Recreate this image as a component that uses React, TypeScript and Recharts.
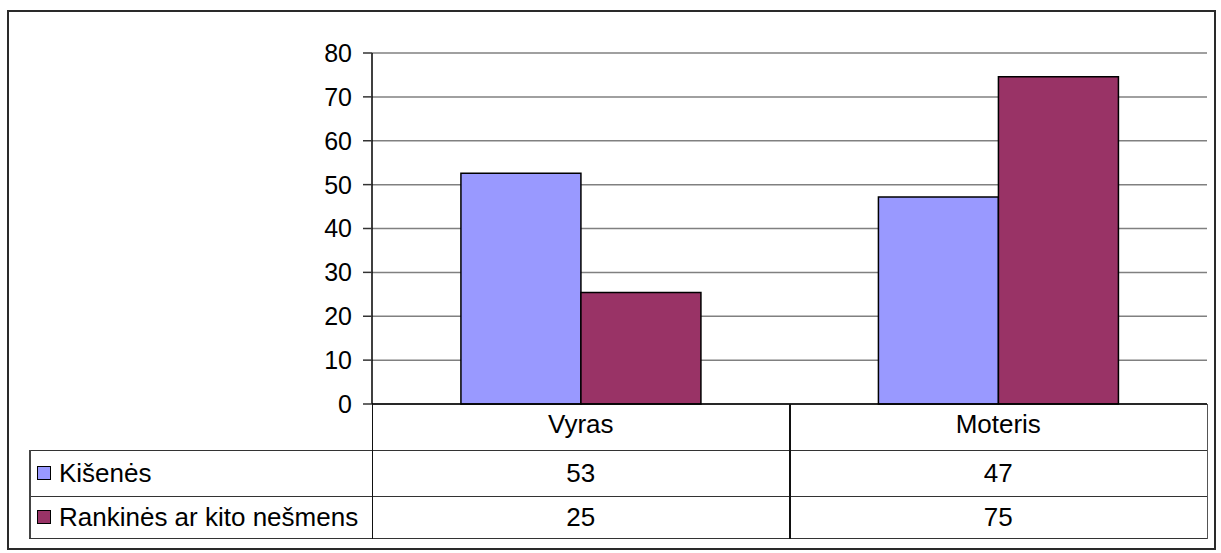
import React from "react";
import { Bar, BarChart, CartesianGrid, XAxis, YAxis } from "recharts";

const categories = ["Vyras", "Moteris"];
const kisenes = [52.6, 47.2];
const rankines = [25.4, 74.6];
const seriesNames = ["Kišenės", "Rankinės ar kito nešmens"];
const seriesColors = ["#9999FF", "#993366"];
const yTicks = [0, 10, 20, 30, 40, 50, 60, 70, 80];

const W = 1221;
const H = 553;
const PLOT_LEFT = 372;
const PLOT_RIGHT = 1207;
const PLOT_TOP = 53;
const PLOT_BOTTOM = 404;
const ROW_LINES = [450, 496, 538];
const TABLE_LEFT = 29;
const FONT = "'Liberation Sans', Arial, sans-serif";
const TABLE_FS = 26;

const data = categories.map((c, i) => ({ name: c, k: kisenes[i], r: rankines[i] }));
const seriesValues = [kisenes, rankines];

function Line({ x, y, w, h, c = "#111" }: { x: number; y: number; w: number; h: number; c?: string }) {
  return <div style={{ position: "absolute", left: x, top: y, width: w, height: h, background: c }} />;
}

function DataTable() {
  const colW = (PLOT_RIGHT - PLOT_LEFT) / categories.length;
  const vx = categories.map((_, i) => PLOT_LEFT + i * colW).concat(PLOT_RIGHT);
  return (
    <>
      {ROW_LINES.map((y) => (
        <Line key={"h" + y} x={TABLE_LEFT} y={y - 0.5} w={PLOT_RIGHT - TABLE_LEFT + 1} h={1.5} c="#333" />
      ))}
      <Line x={TABLE_LEFT} y={ROW_LINES[0]} w={1.5} h={ROW_LINES[2] - ROW_LINES[0]} c="#444" />
      {vx.map((x, i) => (
        <Line key={"v" + i} x={x - 0.5} y={PLOT_BOTTOM} w={1.5} h={ROW_LINES[2] - PLOT_BOTTOM + 1} c={i === vx.length - 1 ? "#555" : "#111"} />
      ))}
      {seriesNames.map((name, si) => {
        const top = ROW_LINES[si];
        const h = ROW_LINES[si + 1] - top;
        return (
          <React.Fragment key={name}>
            <div
              style={{
                position: "absolute",
                left: TABLE_LEFT + 8,
                top: top + h / 2 - 7,
                width: 12,
                height: 12,
                background: seriesColors[si],
                border: "1px solid #000",
              }}
            />
            <div
              style={{
                position: "absolute",
                left: TABLE_LEFT + 30,
                top: top,
                height: h,
                lineHeight: h + "px",
                fontSize: TABLE_FS,
                color: "#000",
                whiteSpace: "nowrap",
              }}
            >
              {name}
            </div>
            {categories.map((c, ci) => (
              <div
                key={c}
                style={{
                  position: "absolute",
                  left: vx[ci],
                  width: colW,
                  top: top,
                  height: h,
                  lineHeight: h + "px",
                  textAlign: "center",
                  fontSize: TABLE_FS,
                  color: "#000",
                }}
              >
                {Math.round(seriesValues[si][ci])}
              </div>
            ))}
          </React.Fragment>
        );
      })}
    </>
  );
}

export default function App() {
  return (
    <div style={{ position: "absolute", left: 0, top: 0, width: W, height: H, background: "#fff", fontFamily: FONT }}>
      <div
        style={{
          position: "absolute",
          left: 7,
          top: 10,
          width: 1207 - 2,
          height: 538 - 2,
          border: "2px solid #2a2a2a",
          boxSizing: "content-box",
        }}
      />
      <div style={{ position: "absolute", left: 0, top: 0 }}>
        <BarChart
          width={W}
          height={H}
          data={data}
          margin={{ top: PLOT_TOP, right: W - PLOT_RIGHT, left: PLOT_LEFT - 80, bottom: H - PLOT_BOTTOM - 46 }}
          barCategoryGap="21.3%"
          barGap={0}
        >
          <CartesianGrid yAxisId="l" vertical={false} stroke="#808080" strokeWidth={1.5} />
          <XAxis
            dataKey="name"
            height={46}
            axisLine={{ stroke: "#000", strokeWidth: 1.5 }}
            tickLine={false}
            tickSize={0}
            tickMargin={11}
            tick={{ fill: "#000", fontSize: TABLE_FS, fontFamily: FONT }}
          />
          <YAxis
            yAxisId="l"
            width={80}
            domain={[0, 80]}
            ticks={yTicks}
            interval={0}
            axisLine={{ stroke: "#000", strokeWidth: 1.5 }}
            tickLine={{ stroke: "#333", strokeWidth: 1.5 }}
            tickSize={9}
            tickMargin={11}
            tick={{ fill: "#000", fontSize: 25, fontFamily: FONT }}
          />
          <YAxis
            yAxisId="r"
            orientation="right"
            width={0}
            domain={[0, 80]}
            tick={false}
            tickLine={false}
            axisLine={{ stroke: "#808080", strokeWidth: 2 }}
          />
          <Bar yAxisId="l" dataKey="k" name={seriesNames[0]} fill={seriesColors[0]} stroke="#000" strokeWidth={1.5} isAnimationActive={false} />
          <Bar yAxisId="l" dataKey="r" name={seriesNames[1]} fill={seriesColors[1]} stroke="#000" strokeWidth={1.5} isAnimationActive={false} />
        </BarChart>
      </div>
      <DataTable />
    </div>
  );
}
